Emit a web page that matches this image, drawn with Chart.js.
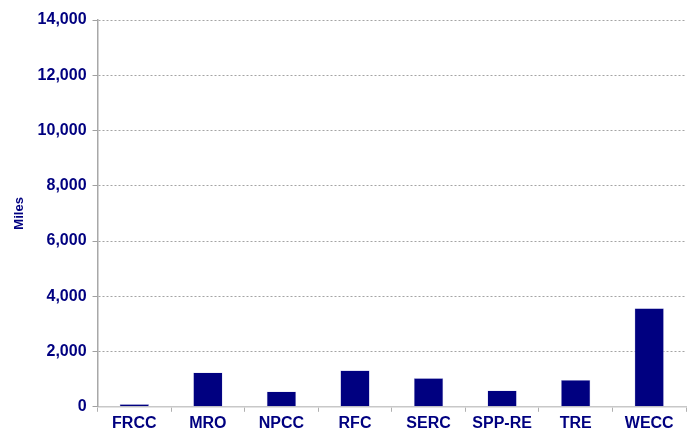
<!DOCTYPE html>
<html>
<head>
<meta charset="utf-8">
<script src="https://cdn.jsdelivr.net/npm/chart.js@4/dist/chart.umd.min.js"></script>
<style>
  html, body { margin: 0; padding: 0; background: #fff; }
  #wrap { width: 692px; height: 430px; }
</style>
</head>
<body>
<div id="wrap"><canvas id="milesChart" width="692" height="430"></canvas></div>
<script>
// Regions and miles
const regions = ['FRCC', 'MRO', 'NPCC', 'RFC', 'SERC', 'SPP-RE', 'TRE', 'WECC'];
const miles = [100, 1245, 555, 1320, 1040, 590, 970, 3570];
const yTicks = [0, 2000, 4000, 6000, 8000, 10000, 12000, 14000];

const navy = '#000080';
const labelFont = { family: 'Liberation Sans, Arial, sans-serif', size: 16, weight: 'bold' };

document.addEventListener('DOMContentLoaded', function() {
  const canvas = document.getElementById('milesChart');

  new Chart(canvas, {
    type: 'bar',
    data: {
      labels: regions,
      datasets: [
        {
          label: 'Miles',
          data: miles,
          backgroundColor: navy,
          borderColor: '#c8c8e8',
          borderWidth: 0.6,
          barPercentage: 0.4,
          categoryPercentage: 1.0
        }
      ]
    },
    options: {
      responsive: false,
      animation: false,
      devicePixelRatio: 1,
      layout: {
        padding: { top: 20, right: 6, bottom: -5, left: 12 }
      },
      plugins: {
        legend: { display: false },
        tooltip: { enabled: false }
      },
      scales: {
        x: {
          offset: true,
          grid: {
            display: true,
            drawOnChartArea: false,
            offset: true,
            color: '#b0b0b0',
            tickLength: 5
          },
          border: { color: '#c8c8c8', width: 1.5 },
          ticks: {
            color: navy,
            padding: 2,
            font: labelFont
          }
        },
        y: {
          min: 0,
          max: 14000,
          afterBuildTicks: function(axis) {
            axis.ticks = yTicks.map(v => ({ value: v }));
          },
          grid: {
            color: '#a4a4a4',
            lineWidth: 1,
            tickLength: 5,
            tickColor: '#a0a0a0'
          },
          // dash here styles the gridlines (dotted), axis line stays solid
          border: { color: '#a8a8a8', width: 1.5, dash: [2, 2] },
          ticks: {
            color: navy,
            padding: 6,
            font: labelFont,
            callback: function(value) {
              return value.toLocaleString('en-US');
            }
          },
          title: {
            display: true,
            text: 'Miles',
            color: navy,
            padding: { top: 0, bottom: 4 },
            font: { family: 'Liberation Sans, Arial, sans-serif', size: 13, weight: 'bold' }
          }
        }
      }
    }
  });
});
</script>
</body>
</html>
